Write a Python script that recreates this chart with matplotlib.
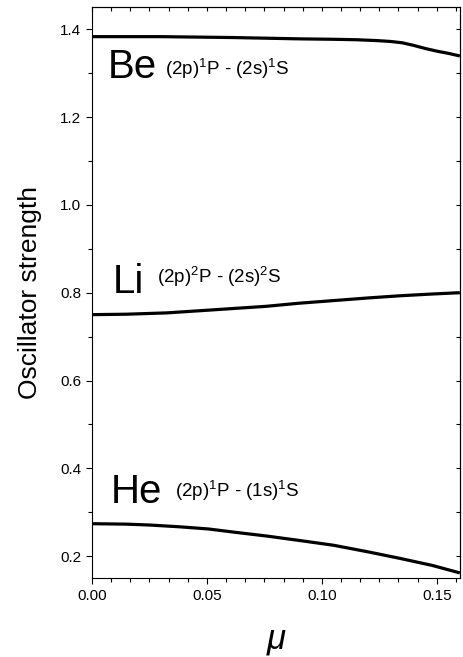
import matplotlib
matplotlib.use("Agg")
import matplotlib.pyplot as plt
from matplotlib.ticker import MultipleLocator, AutoMinorLocator

plt.rcParams['font.family'] = ['Liberation Sans', 'DejaVu Sans']
plt.rcParams['mathtext.default'] = 'regular'

# Curves
mu_be = [0.0, 0.03, 0.061, 0.09, 0.105, 0.115, 0.124, 0.130, 0.135, 0.140, 0.145, 0.150, 0.155, 0.16]
f_be = [1.383, 1.383, 1.381, 1.378, 1.377, 1.376, 1.374, 1.372, 1.369, 1.363, 1.356, 1.350, 1.345, 1.339]

mu_li = [0.0, 0.015, 0.0325, 0.05, 0.0759, 0.09, 0.105, 0.12, 0.134, 0.148, 0.16]
f_li = [0.750, 0.751, 0.754, 0.760, 0.769, 0.776, 0.782, 0.788, 0.793, 0.797, 0.800]

mu_he = [0.0, 0.015, 0.025, 0.038, 0.0507, 0.063, 0.0759, 0.09, 0.105, 0.12, 0.134, 0.148, 0.16]
f_he = [0.274, 0.273, 0.271, 0.267, 0.262, 0.254, 0.246, 0.236, 0.225, 0.210, 0.195, 0.179, 0.162]

labels = [
    # symbol, symbol pos, term, term pos
    ("Be", (0.007, 1.288), "(2p)$^1$P - (2s)$^1$S", (0.0317, 1.296)),
    ("Li", (0.009, 0.799), "(2p)$^2$P - (2s)$^2$S", (0.0283, 0.821)),
    ("He", (0.008, 0.321), "(2p)$^1$P - (1s)$^1$S", (0.0361, 0.335)),
]

fig = plt.figure(figsize=(4.64, 6.57), dpi=100)
ax = fig.add_axes([0.198, 0.120, 0.793, 0.869])

for x, y in [(mu_be, f_be), (mu_li, f_li), (mu_he, f_he)]:
    ax.plot(x, y, color='black', linewidth=2.3, solid_capstyle='butt')

for sym, spos, term, tpos in labels:
    ax.text(spos[0], spos[1], sym, fontsize=29, va='baseline', ha='left')
    ax.text(tpos[0], tpos[1], term, fontsize=13.5, va='baseline', ha='left')

ax.set_xlim(0, 0.16)
ax.set_ylim(0.15, 1.45)
ax.xaxis.set_major_locator(MultipleLocator(0.05))
ax.xaxis.set_minor_locator(AutoMinorLocator(6))
ax.yaxis.set_major_locator(MultipleLocator(0.2))
ax.yaxis.set_minor_locator(AutoMinorLocator(2))
ax.xaxis.set_major_formatter(plt.FormatStrFormatter('%.2f'))
ax.yaxis.set_major_formatter(plt.FormatStrFormatter('%.1f'))

ax.tick_params(which='both', direction='out', top=False, right=False, labelsize=11)
ax.tick_params(which='major', length=4.5, width=0.8, pad=3)
ax.tick_params(which='minor', length=3, width=0.8)

# mirrored ticks on top and right, pointing inward
ax2 = ax.secondary_xaxis('top')
ax2.xaxis.set_major_locator(MultipleLocator(0.05))
ax2.xaxis.set_minor_locator(AutoMinorLocator(6))
ax2.tick_params(which='both', direction='in', labeltop=False, length=3, width=0.8)
ay2 = ax.secondary_yaxis('right')
ay2.yaxis.set_major_locator(MultipleLocator(0.2))
ay2.yaxis.set_minor_locator(AutoMinorLocator(2))
ay2.tick_params(which='both', direction='in', labelright=False, length=3, width=0.8)

for sp in ax.spines.values():
    sp.set_linewidth(0.8)

ax.set_ylabel('Oscillator strength', fontsize=19)
ax.yaxis.set_label_coords(-0.136, 0.5)
xl = ax.set_xlabel('μ', fontsize=25, fontstyle='italic')
xl.set_va('baseline')
ax.xaxis.set_label_coords(0.5, -0.124)

fig.savefig('out.png', dpi=100)
